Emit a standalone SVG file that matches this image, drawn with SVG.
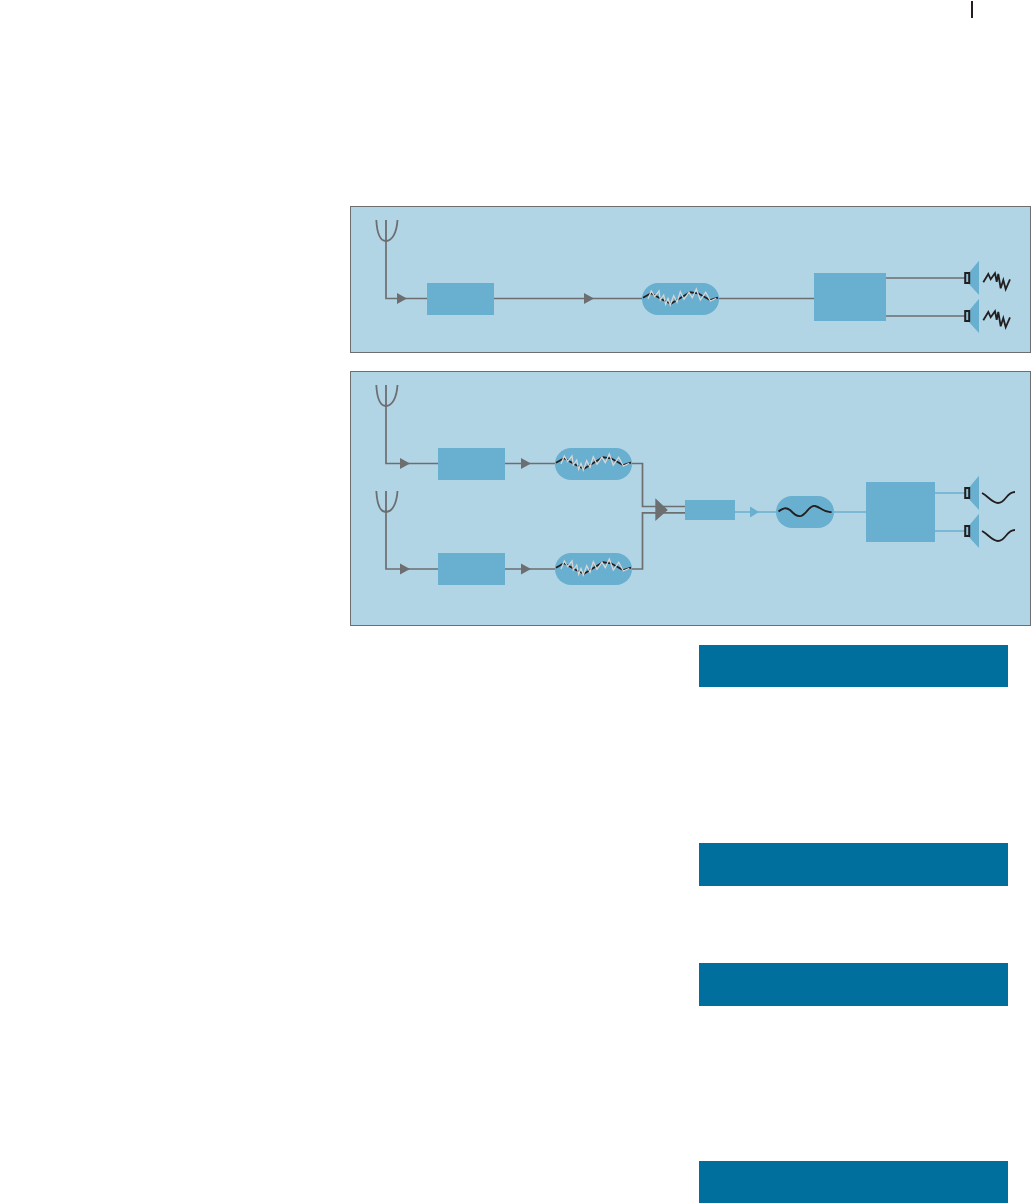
<svg xmlns="http://www.w3.org/2000/svg" xmlns:xlink="http://www.w3.org/1999/xlink" width="1031" height="1203" viewBox="0 0 1031 1203">
<style>
.panel{fill:#b2d5e5;stroke:#6d6e70;stroke-width:1}
.block{fill:#69afcf}
.bar{fill:#006f9e}
.wire{fill:none;stroke:#6d6e70;stroke-width:1.7}
.bwire{fill:none;stroke:#69afcf;stroke-width:1.7}
.ant{fill:none;stroke:#6d6e70;stroke-width:1.8}
.head{fill:#6d6e70}
.bhead{fill:#69afcf}
.dark{fill:none;stroke:#231f20;stroke-width:1.8}
.grey{fill:none;stroke:#d4d6d8;stroke-width:1.3}
</style>
<defs>
<g id="antenna"><path class="ant" d="M376.300 0C377 13 380 21 386 21C392 21 396.700 13 397.500 0M386 0V21"/></g>
<path id="arrow" class="head" d="M0 -5.500L10 0L0 5.500Z"/>
<g id="noisy">
<rect class="block" x="0" y="-16" width="77" height="32" rx="16"/>
<path d="M1 -1.300L9 -5.700L21 1L29 4.700L38 -0.700L48 -6.700L56 -5.700L68 1L76 -1.300" fill="none" stroke="#231f20" stroke-width="1.800"/>
<path class="grey" d="M6 0L9.300 -8L12.700 -2.300L17 -8L18.300 1L21.700 -4L23.700 5.300L26 -0.700L28.300 6L31.700 -3.300L35 3.300L38.300 -7.300L42 0.300L47 -6.700L50.300 -1.300L54.300 -10L58.300 1L63.700 -6.700L68.300 2L74.300 -0.700"/>
</g>
<g id="speaker">
<path class="block" d="M967 -3L979 -17.300V17L967 4Z"/>
<rect x="965.200" y="-5" width="4" height="10" fill="#8fc3db" stroke="#231f20" stroke-width="2"/>
</g>
<path id="rough" class="dark" d="M983.300 4.300L988.300 -4L990.700 1.300L995 -4.700L996.700 3.700L998.300 -4L1000.700 10.300L1003.300 2L1005.700 11.300L1010 1.300"/>
<path id="smooth" class="dark" d="M982 0C988 3 992 10 998 10C1006 10 1006 -1 1015 -1"/>
</defs>
<rect width="1031" height="1203" fill="#ffffff"/>
<rect id="page-tick" x="971" y="1" width="2" height="17" fill="#231f20"/>
<rect id="panel-top" class="panel" x="350.500" y="206.500" width="680" height="146"/>
<rect id="panel-bottom" class="panel" x="350.500" y="371.500" width="680" height="254"/>
<g id="connectors">
<path class="wire" d="M386 241V298.500H427M494 298.500H642M719 298.500H814M886 278H965M886 316H965"/>
<use xlink:href="#arrow" href="#arrow" x="397" y="298.500"/>
<use xlink:href="#arrow" href="#arrow" x="584" y="298.500"/>
<path class="wire" d="M386 406V463.500H438M505 463.500H555M632 463.500H642.500V506.500H685M386 512V569H438M505 569H555M632 569H642.500V512.800H685"/>
<use xlink:href="#arrow" href="#arrow" x="400" y="463.500"/>
<use xlink:href="#arrow" href="#arrow" x="521" y="463.500"/>
<use xlink:href="#arrow" href="#arrow" x="400" y="569"/>
<use xlink:href="#arrow" href="#arrow" x="521" y="569"/>
<path class="head" d="M655.300 498.300L667.800 510L655.300 521Z"/>
<path class="bwire" d="M735 512H776M834 512H866M935 493H965M935 531H965"/>
<path class="bhead" d="M750 506.500L759 512L750 517.500Z"/>
</g>
<g id="antenna-1"><use xlink:href="#antenna" href="#antenna" y="220"/></g>
<rect id="box-1" class="block" x="427" y="283" width="67" height="32"/>
<g id="noisy-1"><use xlink:href="#noisy" href="#noisy" x="642" y="299"/></g>
<rect id="amp-1" class="block" x="814" y="273" width="72" height="48"/>
<g id="speaker-1a"><use xlink:href="#speaker" href="#speaker" y="278"/><use xlink:href="#rough" href="#rough" y="278"/></g>
<g id="speaker-1b"><use xlink:href="#speaker" href="#speaker" y="316"/><use xlink:href="#rough" href="#rough" y="316"/></g>
<g id="antenna-2"><use xlink:href="#antenna" href="#antenna" y="385"/></g>
<rect id="box-2" class="block" x="438" y="448" width="67" height="32"/>
<g id="noisy-2"><use xlink:href="#noisy" href="#noisy" x="555" y="464"/></g>
<g id="antenna-3"><use xlink:href="#antenna" href="#antenna" y="491"/></g>
<rect id="box-3" class="block" x="438" y="553" width="67" height="32"/>
<g id="noisy-3"><use xlink:href="#noisy" href="#noisy" x="555" y="569"/></g>
<rect id="box-4" class="block" x="685" y="500" width="50" height="20"/>
<g id="clean"><rect class="block" x="776" y="496" width="58" height="32" rx="16"/><path class="dark" d="M778.500 511.500C783 508 786 507 790 510C794 514 797 517 801 516C807 514 809 505 815 506C821 507 824 513 831.500 512"/></g>
<rect id="amp-2" class="block" x="866" y="482" width="69" height="60"/>
<g id="speaker-2a"><use xlink:href="#speaker" href="#speaker" y="493"/><use xlink:href="#smooth" href="#smooth" y="493"/></g>
<g id="speaker-2b"><use xlink:href="#speaker" href="#speaker" y="531"/><use xlink:href="#smooth" href="#smooth" y="531"/></g>
<rect id="bar-1" class="bar" x="699" y="645" width="309" height="42"/>
<rect id="bar-2" class="bar" x="699" y="843" width="309" height="43"/>
<rect id="bar-3" class="bar" x="699" y="963" width="309" height="43"/>
<rect id="bar-4" class="bar" x="699" y="1161" width="309" height="42"/>
</svg>
